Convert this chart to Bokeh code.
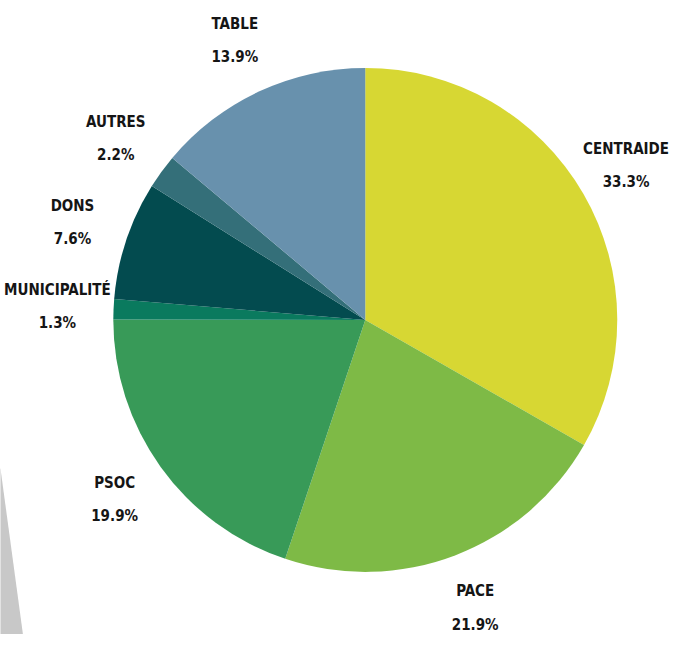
import math
from bokeh.plotting import figure
from bokeh.models import Range1d, ColumnDataSource
from bokeh.core.properties import value
from bokeh.embed import file_html
from bokeh.resources import INLINE

# Data
categories = ["CENTRAIDE", "PACE", "PSOC", "MUNICIPALITÉ", "DONS", "AUTRES", "TABLE"]
shares = [33.3, 21.9, 19.9, 1.3, 7.6, 2.2, 13.9]
pct_labels = ["33.3%", "21.9%", "19.9%", "1.3%", "7.6%", "2.2%", "13.9%"]
colors = ["#D7D733", "#7EBA46", "#389A58", "#0A7A5E", "#034B4F", "#346F79", "#6891AD"]

W, H = 669, 634
XMAX, YMAX = 685, 650
# data coordinates: x = reference pixel x, y = 650 - reference pixel y
p = figure(width=W, height=H, x_range=Range1d(0, XMAX), y_range=Range1d(0, YMAX),
           output_backend="svg", toolbar_location=None)
p.axis.visible = False
p.grid.visible = False
p.outline_line_color = None
p.background_fill_color = "white"
p.border_fill_color = "white"
p.min_border = 0

cx, cy, R = 373.5, YMAX - 327.5, 258
label_r = 316
fs = 15
char_w = 0.6 * fs * XMAX / W  # approx. glyph width in data units

# decorative grey shadow
p.patch(x=[-20, 0, 23, -20], y=[YMAX - 470, YMAX - 480, 0, 0], fill_color="#C8C8C8", line_color=None)

total = sum(shares)
starts, ends, lx, ly = [], [], [], []
acc = 0.0
for s, name in zip(shares, categories):
    a0 = math.pi / 2 - acc / total * 2 * math.pi
    a1 = math.pi / 2 - (acc + s) / total * 2 * math.pi
    starts.append(a1)
    ends.append(a0)
    mid = (a0 + a1) / 2
    x = cx + label_r * math.cos(mid)
    half = len(name) * char_w / 2
    x = min(max(x, half + 3), XMAX - half - 3)
    lx.append(x)
    ly.append(cy + label_r * math.sin(mid))
    acc += s

src = ColumnDataSource(dict(start=starts, end=ends, color=colors,
                            lx=lx, ly=ly, name=categories, pct=pct_labels,
                            ny=[y + 17 for y in ly], py=[y - 17 for y in ly]))
p.wedge(x=cx, y=cy, radius=R, start_angle="start", end_angle="end",
        fill_color="color", line_color=None, source=src)

font = value("DejaVu Sans Condensed")
p.text(x="lx", y="ny", text="name", source=src, text_font=font, text_font_style="bold",
       text_font_size=f"{fs}px", text_align="center", text_baseline="middle", text_color="#151515")
p.text(x="lx", y="py", text="pct", source=src, text_font=font, text_font_style="bold",
       text_font_size=f"{fs}px", text_align="center", text_baseline="middle", text_color="#151515")

open("out.html", "w").write(file_html(p, INLINE))
